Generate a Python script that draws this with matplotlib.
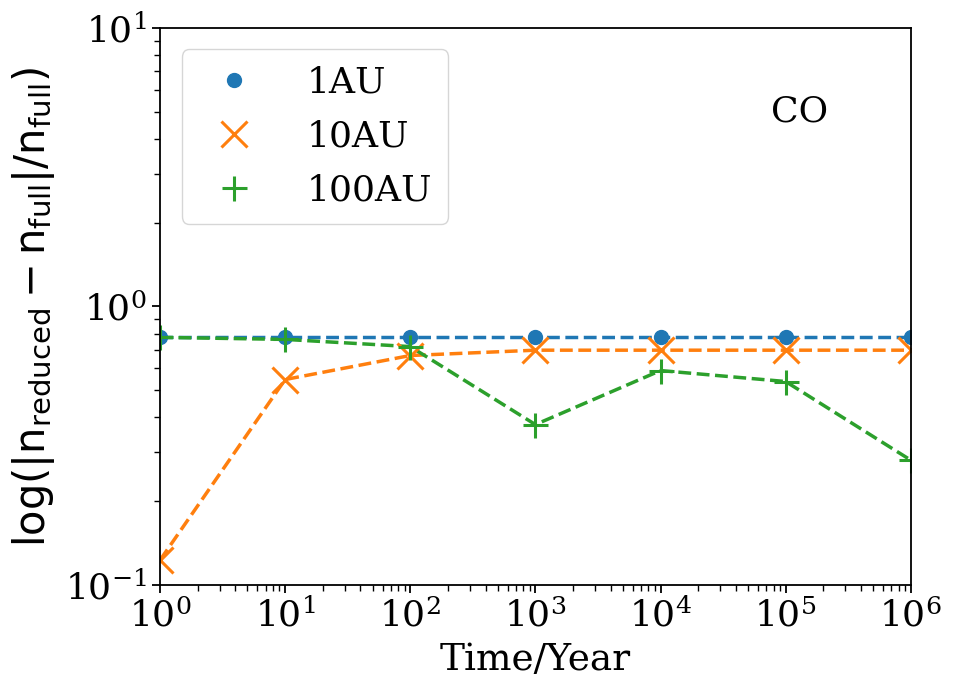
import matplotlib
matplotlib.use("Agg")
import matplotlib.pyplot as plt

plt.rcParams['font.family'] = ['DejaVu Serif']
plt.rcParams['mathtext.fontset'] = 'dejavuserif'

time = [1, 10, 100, 1e3, 1e4, 1e5, 1e6]
au1 = [0.775, 0.775, 0.775, 0.775, 0.775, 0.775, 0.775]
au10 = [0.123, 0.547, 0.667, 0.697, 0.697, 0.697, 0.697]
au100 = [0.775, 0.762, 0.718, 0.377, 0.589, 0.538, 0.281]

fig = plt.figure(figsize=(9.6, 6.95), dpi=100)
ax = fig.add_axes([0.1667, 0.158, 0.782, 0.802])

ax.plot(time, au1, '--', color='C0', lw=2.5)
ax.plot(time, au10, '--', color='C1', lw=2.5)
ax.plot(time, au100, '--', color='C2', lw=2.5)
ax.plot(time, au1, 'o', color='C0', ms=10, ls='none', label='1AU')
ax.plot(time, au10, 'x', color='C1', ms=19, mew=2.2, ls='none', label='10AU')
ax.plot(time, au100, '+', color='C2', ms=18, mew=2.2, ls='none', label='100AU')

ax.set_xscale('log')
ax.set_yscale('log')
ax.set_xlim(1, 1e6)
ax.set_ylim(0.1, 10)
for s in ax.spines.values():
    s.set_linewidth(1.3)
ax.tick_params(axis='both', which='major', labelsize=26, length=6, width=1.3)
ax.tick_params(axis='both', which='minor', length=4, width=1)
ax.set_xlabel('Time/Year', fontsize=27, labelpad=6)
ax.set_ylabel(r'$\mathrm{log(|n_{reduced}-n_{full}|/n_{full})}$', fontsize=30,
              math_fontfamily='dejavusans', labelpad=6)
ax.text(0.852, 0.85, 'CO', transform=ax.transAxes, fontsize=26, ha='center', va='center')
ax.legend(loc='upper left', fontsize=26, borderpad=0.45, handletextpad=1.0, labelspacing=0.55,
          borderaxespad=0.6)

fig.savefig('out.png', dpi=100)
